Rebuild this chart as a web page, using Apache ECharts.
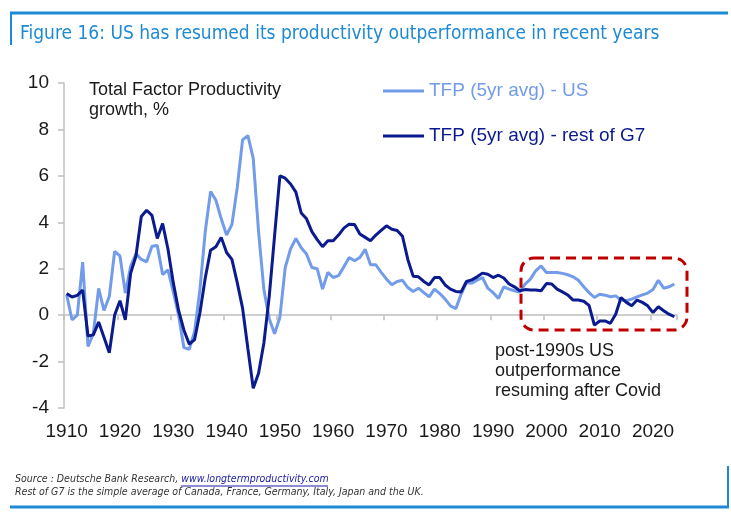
<!DOCTYPE html>
<html>
<head>
<meta charset="utf-8">
<script src="https://cdn.jsdelivr.net/npm/echarts@6/dist/echarts.min.js"></script>
<style>
  html, body { margin: 0; padding: 0; background: #fff; }
  #chart { width: 731px; height: 521px; }
</style>
</head>
<body>
<div id="chart"></div>
<script>
// categories: one per year
const years = []
for (let y = 1910; y <= 2024; y++) years.push(String(y))

// TFP (5yr avg) - US, 1910..2024
const usTfp = [
  0.88, -0.2, 0.0, 2.28, -1.35, -0.8, 1.15, 0.2, 0.8, 2.75,
  2.55, 0.95, 2.1, 2.65, 2.4, 2.3, 2.97, 3.0, 1.75, 1.95,
  1.0, 0.0, -1.4, -1.47, -0.7, 1.1, 3.6, 5.33, 4.95, 4.15,
  3.45, 3.9, 5.5, 7.55, 7.73, 6.75, 3.6, 1.1, -0.15, -0.8,
  -0.1, 2.05, 2.85, 3.3, 2.9, 2.63, 2.05, 2.0, 1.12, 1.84,
  1.62, 1.7, 2.08, 2.48, 2.34, 2.48, 2.84, 2.17, 2.17, 1.84,
  1.55, 1.31, 1.45, 1.5, 1.19, 1.02, 1.16, 0.97, 0.79, 1.12,
  0.93, 0.69, 0.4, 0.28, 0.9, 1.4, 1.38, 1.51, 1.62, 1.16,
  0.97, 0.72, 1.22, 1.12, 1.05, 1.0, 1.34, 1.55, 1.91, 2.12,
  1.84, 1.84, 1.84, 1.8, 1.74, 1.65, 1.5, 1.22, 0.97, 0.76,
  0.9, 0.86, 0.79, 0.83, 0.65, 0.62, 0.69, 0.79, 0.87, 0.95,
  1.1, 1.5, 1.16, 1.22, 1.34
]

// TFP (5yr avg) - rest of G7, 1910..2024
const g7Tfp = [
  0.93, 0.78, 0.85, 1.08, -0.9, -0.85, -0.3, -0.95, -1.62, 0.0,
  0.62, -0.2, 1.8, 2.55, 4.25, 4.52, 4.3, 3.3, 3.95, 2.85,
  1.4, 0.2, -0.65, -1.25, -1.05, 0.1, 1.6, 2.8, 2.95, 3.35,
  2.7, 2.4, 1.4, 0.3, -1.45, -3.15, -2.5, -1.2, 0.8, 3.4,
  6.0, 5.9, 5.65, 5.3, 4.4, 4.15, 3.6, 3.25, 2.95, 3.2,
  3.2, 3.45, 3.75, 3.92, 3.9, 3.5, 3.35, 3.2, 3.45, 3.65,
  3.85, 3.7, 3.65, 3.4, 2.4, 1.68, 1.65, 1.45, 1.3, 1.62,
  1.62, 1.3, 1.12, 1.02, 1.0, 1.45, 1.52, 1.65, 1.81, 1.76,
  1.62, 1.72, 1.6, 1.34, 1.22, 1.05, 1.1, 1.08, 1.08, 1.05,
  1.36, 1.34, 1.12, 1.0, 0.87, 0.65, 0.65, 0.6, 0.42, -0.43,
  -0.25, -0.25, -0.35, 0.04, 0.76, 0.55, 0.4, 0.65, 0.55, 0.4,
  0.11, 0.36, 0.19, 0.04, -0.07
]

const seriesNames = ['TFP (5yr avg) - US', 'TFP (5yr avg) - rest of G7']
const colorUs = '#729ce9'
const colorG7 = '#0b1a8e'
const frameBlue = '#1e8ad3'
const axisGrey = '#bfbfbf'
const font = '"Liberation Sans", Arial, sans-serif'
const narrow = '"Liberation Sans Narrow", "DejaVu Sans Condensed", sans-serif'

let myChart = echarts.init(document.getElementById('chart'))
myChart.setOption({
    backgroundColor: '#fff',
    animation: false,
    grid: { left: 64, right: 54, top: 83, bottom: 113 },
    // x轴: labels at the bottom, line + ticks at zero
    xAxis: [
        {
            type: 'category',
            data: years,
            position: 'bottom',
            boundaryGap: true,
            axisLine: { show: false, onZero: false },
            axisTick: { show: false },
            axisLabel: {
                interval: 9,
                margin: 14,
                fontFamily: font,
                fontSize: 19,
                color: '#1a1a1a'
            },
            splitLine: { show: false }
        },
        {
            type: 'category',
            data: years,
            position: 'bottom',
            boundaryGap: true,
            axisLine: { show: true, onZero: true, lineStyle: { color: axisGrey, width: 1.5 } },
            axisTick: { show: true, interval: 9, length: 5, lineStyle: { color: axisGrey, width: 1.5 } },
            axisLabel: { show: false },
            splitLine: { show: false }
        }
    ],
    // y轴
    yAxis: {
        type: 'value',
        min: -4,
        max: 10,
        interval: 2,
        axisLine: { show: true, onZero: false, lineStyle: { color: axisGrey, width: 1.5 } },
        axisTick: { show: true, length: 6, lineStyle: { color: axisGrey, width: 1.5 } },
        axisLabel: {
            margin: 15,
            fontFamily: font,
            fontSize: 19,
            color: '#1a1a1a'
        },
        splitLine: { show: false }
    },
    // 图例
    legend: {
        orient: 'vertical',
        left: 383,
        top: 81,
        padding: 0,
        icon: 'rect',
        itemWidth: 41,
        itemHeight: 3,
        itemGap: 25,
        itemStyle: { borderWidth: 0 },
        data: [
            { name: seriesNames[0], textStyle: { color: colorUs } },
            { name: seriesNames[1], textStyle: { color: colorG7 } }
        ],
        textStyle: { fontFamily: font, fontSize: 19, lineHeight: 20 }
    },
    series: [
        {
            name: seriesNames[0],
            type: 'line',
            data: usTfp,
            color: colorUs,
            symbol: 'none',
            lineStyle: { color: colorUs, width: 3 }
        },
        {
            name: seriesNames[1],
            type: 'line',
            data: g7Tfp,
            color: colorG7,
            symbol: 'none',
            lineStyle: { color: colorG7, width: 3 }
        }
    ],
    graphic: [
        // frame
        { type: 'line', shape: { x1: 10, y1: 13, x2: 728, y2: 13 }, style: { stroke: frameBlue, lineWidth: 3 } },
        { type: 'line', shape: { x1: 11, y1: 12, x2: 11, y2: 45 }, style: { stroke: frameBlue, lineWidth: 2 } },
        { type: 'line', shape: { x1: 10, y1: 507, x2: 729, y2: 507 }, style: { stroke: frameBlue, lineWidth: 3 } },
        { type: 'line', shape: { x1: 728, y1: 466, x2: 728, y2: 508 }, style: { stroke: frameBlue, lineWidth: 2 } },
        // title
        {
            type: 'text', left: 20, top: 25,
            style: {
                text: 'Figure 16: US has resumed its productivity outperformance in recent years',
                fill: frameBlue, font: '19px ' + narrow
            }
        },
        // axis caption
        {
            type: 'text', left: 89, top: 80,
            style: {
                text: 'Total Factor Productivity\ngrowth, %',
                fill: '#1a1a1a', font: '18px ' + font, lineHeight: 20
            }
        },
        // highlighted region
        {
            type: 'rect',
            shape: { x: 521, y: 258, width: 166, height: 72, r: 13 },
            style: { fill: 'none', stroke: '#c00000', lineWidth: 3, lineDash: [10, 6] },
            z: 10
        },
        {
            type: 'text', left: 495, top: 341,
            style: {
                text: 'post-1990s US\noutperformance\nresuming after Covid',
                fill: '#1a1a1a', font: '18px ' + font, lineHeight: 20
            }
        },
        // footer
        {
            type: 'text', left: 15, top: 474,
            style: {
                text: '{a|Source : Deutsche Bank Research, }{l|www.longtermproductivity.com}',
                font: 'italic 10.5px ' + narrow,
                rich: {
                    a: { fill: '#333', font: 'italic 10.5px ' + narrow },
                    l: { fill: '#1a1aa8', font: 'italic 10.5px ' + narrow }
                }
            }
        },
        { type: 'line', shape: { x1: 181, y1: 486, x2: 328, y2: 486 }, style: { stroke: '#1a1aa8', lineWidth: 1 } },
        {
            type: 'text', left: 15, top: 487,
            style: {
                text: 'Rest of G7 is the simple average of Canada, France, Germany, Italy, Japan and the UK.',
                fill: '#333', font: 'italic 10.5px ' + narrow
            }
        }
    ]
})
</script>
</body>
</html>
